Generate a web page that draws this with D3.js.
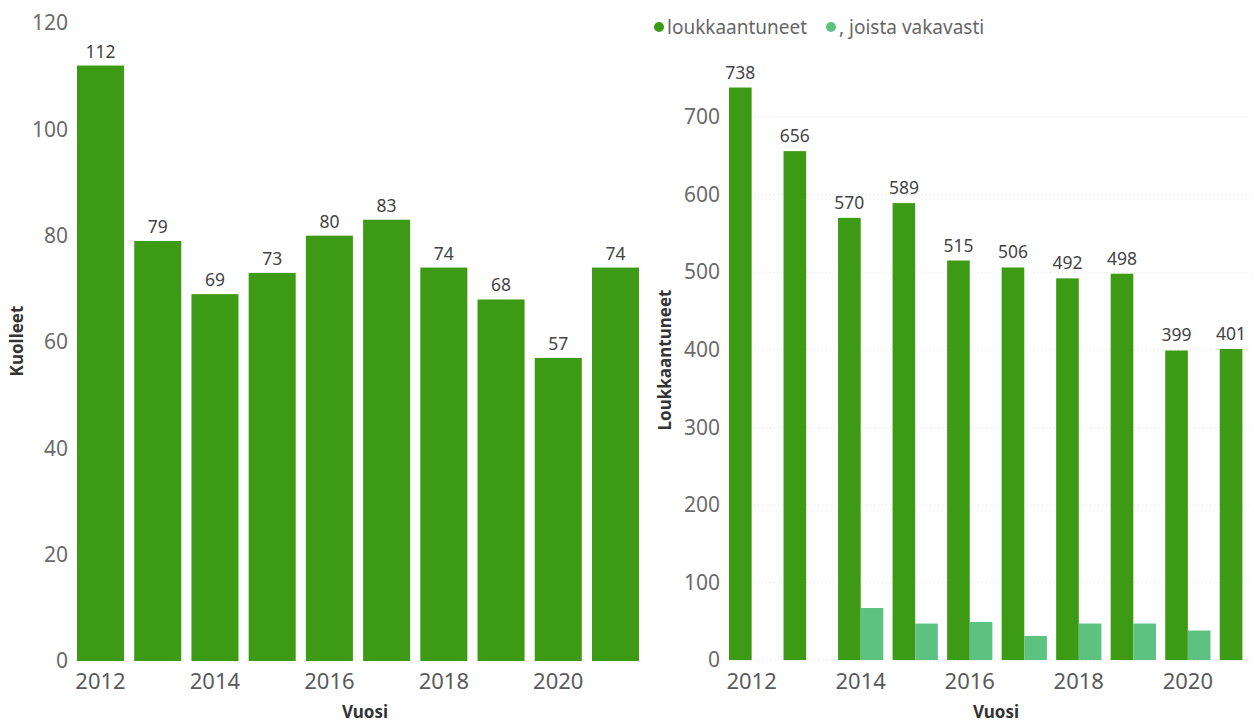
<!DOCTYPE html>
<html>
<head>
<meta charset="UTF-8">
<script src="https://d3js.org/d3.v7.min.js"></script>
<style>
  body { margin: 0; background: #fff; }
  text { font-family: "Segoe UI", "Noto Sans", sans-serif; }
</style>
</head>
<body>
<svg id="canvas" width="1254" height="722"></svg>
<script>
// data
const years = [2012, 2013, 2014, 2015, 2016, 2017, 2018, 2019, 2020, 2021];
const kuolleet = [112, 79, 69, 73, 80, 83, 74, 68, 57, 74];
const loukkaantuneet = [738, 656, 570, 589, 515, 506, 492, 498, 399, 401];
const vakavasti = [null, null, 67, 47, 49, 31, 47, 47, 38, null];
const leftTicks = [0, 20, 40, 60, 80, 100, 120];
const rightTicks = [0, 100, 200, 300, 400, 500, 600, 700];
const xLabelYears = [2012, 2014, 2016, 2018, 2020];
const seriesNames = ["loukkaantuneet", ", joista vakavasti"];

const dark = "#3d9a14";
const light = "#5dc280";
const tickStyle = "font-size:21px; fill:#6b6b6b";
const xTickStyle = "font-size:22px; fill:#5a5a5a";
const valStyle = "font-size:17.5px; fill:#444";
const titleStyle = "font-size:17px; font-weight:bold; fill:#333";

const svg = d3.select("#canvas");

// ---- left chart: Kuolleet
const lx = d3.scaleBand().domain(years).range([77, 639]).paddingInner(0.178).paddingOuter(0);
const ly = d3.scaleLinear().domain([0, 120]).range([661, 23]);

const left = svg.append("g");

left.selectAll("text.ytick")
  .data(leftTicks).enter().append("text")
    .attr("class", "ytick")
    .attr("x", 68)
    .attr("y", d => ly(d))
    .attr("dy", "0.35em")
    .attr("text-anchor", "end")
    .attr("style", tickStyle)
    .text(d => d);

left.selectAll("rect")
  .data(years).enter().append("rect")
    .attr("x", d => lx(d))
    .attr("width", lx.bandwidth())
    .attr("y", (d, i) => ly(kuolleet[i]))
    .attr("height", (d, i) => ly(0) - ly(kuolleet[i]))
    .attr("fill", dark);

left.selectAll("text.val")
  .data(years).enter().append("text")
    .attr("class", "val")
    .attr("x", d => lx(d) + lx.bandwidth() / 2)
    .attr("y", (d, i) => ly(kuolleet[i]) - 8)
    .attr("text-anchor", "middle")
    .attr("style", valStyle)
    .text((d, i) => kuolleet[i]);

left.selectAll("text.xtick")
  .data(xLabelYears).enter().append("text")
    .attr("class", "xtick")
    .attr("x", d => lx(d) + lx.bandwidth() / 2)
    .attr("y", 689)
    .attr("text-anchor", "middle")
    .attr("style", xTickStyle)
    .text(d => d);

left.append("text")
  .attr("x", 365).attr("y", 718)
  .attr("text-anchor", "middle")
  .attr("style", titleStyle)
  .text("Vuosi");

left.append("text")
  .attr("transform", "translate(23,341) rotate(-90)")
  .attr("text-anchor", "middle")
  .attr("style", titleStyle)
  .text("Kuolleet");

// ---- right chart: Loukkaantuneet
const rx = d3.scaleBand().domain(years).range([729, 1265]).paddingInner(0.17).paddingOuter(0);
const sub = d3.scaleBand().domain([0, 1]).range([0, rx.bandwidth()]);
const ry = d3.scaleLinear().domain([0, 700]).range([660, 117]);

const right = svg.append("g");

right.selectAll("line.grid")
  .data(rightTicks).enter().append("line")
    .attr("class", "grid")
    .attr("x1", 730).attr("x2", 1254)
    .attr("y1", d => ry(d)).attr("y2", d => ry(d))
    .attr("style", "stroke:#ddd; stroke-width:1; stroke-dasharray:1,3");

right.selectAll("text.ytick")
  .data(rightTicks).enter().append("text")
    .attr("class", "ytick")
    .attr("x", 720)
    .attr("y", d => ry(d))
    .attr("dy", "0.35em")
    .attr("text-anchor", "end")
    .attr("style", tickStyle)
    .text(d => d);

right.selectAll("rect.l")
  .data(years).enter().append("rect")
    .attr("class", "l")
    .attr("x", d => rx(d) + sub(0))
    .attr("width", sub.bandwidth())
    .attr("y", (d, i) => ry(loukkaantuneet[i]))
    .attr("height", (d, i) => ry(0) - ry(loukkaantuneet[i]))
    .attr("fill", dark);

right.selectAll("rect.v")
  .data(years.filter((d, i) => vakavasti[i] != null)).enter().append("rect")
    .attr("class", "v")
    .attr("x", d => rx(d) + sub(1))
    .attr("width", sub.bandwidth())
    .attr("y", d => ry(vakavasti[years.indexOf(d)]))
    .attr("height", d => ry(0) - ry(vakavasti[years.indexOf(d)]))
    .attr("fill", light);

right.selectAll("text.val")
  .data(years).enter().append("text")
    .attr("class", "val")
    .attr("x", d => rx(d) + sub(0) + sub.bandwidth() / 2)
    .attr("y", (d, i) => ry(loukkaantuneet[i]) - 9)
    .attr("text-anchor", "middle")
    .attr("style", valStyle)
    .text((d, i) => loukkaantuneet[i]);

right.selectAll("text.xtick")
  .data(xLabelYears).enter().append("text")
    .attr("class", "xtick")
    .attr("x", d => rx(d) + rx.bandwidth() / 2)
    .attr("y", 689)
    .attr("text-anchor", "middle")
    .attr("style", xTickStyle)
    .text(d => d);

right.append("text")
  .attr("x", 996).attr("y", 718)
  .attr("text-anchor", "middle")
  .attr("style", titleStyle)
  .text("Vuosi");

right.append("text")
  .attr("transform", "translate(671,360) rotate(-90)")
  .attr("text-anchor", "middle")
  .attr("style", titleStyle)
  .text("Loukkaantuneet");

// legend
const legend = right.append("g");
const legX = [659, 831];
legend.selectAll("circle")
  .data(seriesNames).enter().append("circle")
    .attr("cx", (d, i) => legX[i])
    .attr("cy", 27)
    .attr("r", 5)
    .attr("fill", (d, i) => i === 0 ? dark : light);
legend.selectAll("text")
  .data(seriesNames).enter().append("text")
    .attr("x", (d, i) => legX[i] + 8)
    .attr("y", 27)
    .attr("dy", "0.35em")
    .attr("style", "font-size:19px; fill:#666")
    .text(d => d);
</script>
</body>
</html>
